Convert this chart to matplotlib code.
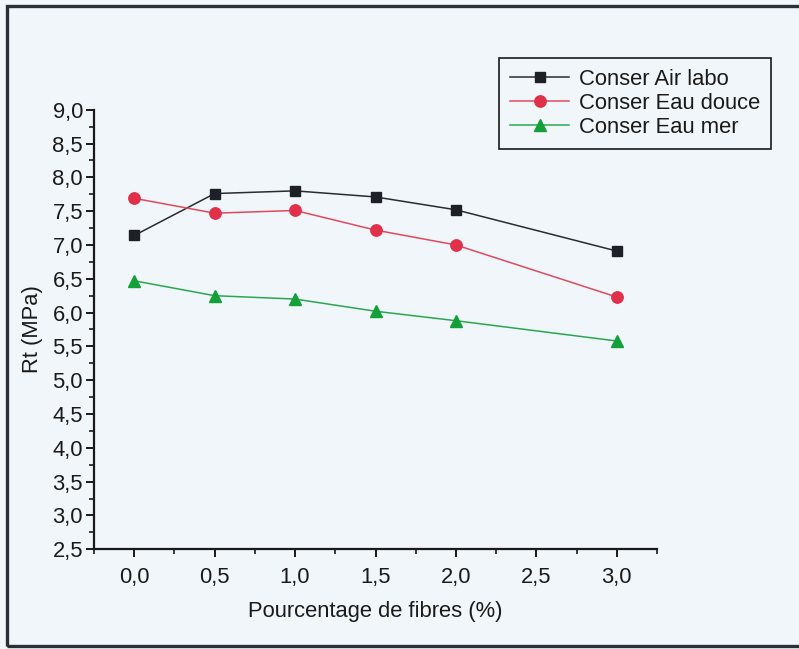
import matplotlib
matplotlib.use("Agg")
import matplotlib.pyplot as plt
from matplotlib.patches import Rectangle
from matplotlib.ticker import MultipleLocator, FuncFormatter

# Fibre content (%) and tensile strength Rt (MPa) for each curing condition
fibres = [0.0, 0.5, 1.0, 1.5, 2.0, 3.0]
rt_air_labo = [7.14, 7.76, 7.80, 7.71, 7.52, 6.91]
rt_eau_douce = [7.69, 7.47, 7.51, 7.22, 7.00, 6.23]
rt_eau_mer = [6.47, 6.25, 6.20, 6.02, 5.88, 5.58]

series_labels = ["Conser Air labo", "Conser Eau douce", "Conser Eau mer"]

plt.rcParams["font.family"] = ["Liberation Sans", "DejaVu Sans"]

W, H = 799, 649
bg = "#f1f6fa"
fs = 15.8
fig = plt.figure(figsize=(W / 100, H / 100), dpi=100, facecolor=bg)

# axes box in pixel units
x0, x1 = 94, 657
y_top, y_bot = 109.7, 549.3
ax = fig.add_axes([x0 / W, 1 - y_bot / H, (x1 - x0) / W, (y_bot - y_top) / H])
ax.set_facecolor(bg)

styles = [
    dict(color="#2b2b2e", marker="s", markersize=6.8, mfc="#1d2026", mec="#1d2026"),
    dict(color="#e04a5e", marker="o", markersize=8.2, mfc="#e0304a", mec="#e0304a"),
    dict(color="#2aa84e", marker="^", markersize=8.2, mfc="#14a038", mec="#14a038"),
]
handles = []
for vals, st, lab in zip([rt_air_labo, rt_eau_douce, rt_eau_mer], styles, series_labels):
    h, = ax.plot(fibres, vals, linewidth=1.1, label=lab, clip_on=False, **st)
    handles.append(h)

ax.set_xlim(-0.25, 3.25)
ax.set_ylim(2.5, 9.0)
ax.xaxis.set_major_locator(MultipleLocator(0.5))
ax.xaxis.set_minor_locator(MultipleLocator(0.25))
ax.yaxis.set_major_locator(MultipleLocator(0.5))
ax.yaxis.set_minor_locator(MultipleLocator(0.25))
comma = FuncFormatter(lambda v, p: f"{v:.1f}".replace(".", ","))
ax.xaxis.set_major_formatter(comma)
ax.yaxis.set_major_formatter(comma)
ax.set_xticks([0.0, 0.5, 1.0, 1.5, 2.0, 2.5, 3.0])

for s in ("top", "right"):
    ax.spines[s].set_visible(False)
for s in ("left", "bottom"):
    ax.spines[s].set_linewidth(1.6)
    ax.spines[s].set_color("#1a1a1a")

ax.tick_params(which="major", direction="out", length=6, width=1.4, color="#1a1a1a",
               labelsize=fs, labelcolor="#1a1a1a")
ax.tick_params(axis="x", which="major", pad=7)
ax.tick_params(axis="y", which="major", pad=2)
ax.tick_params(which="minor", direction="out", length=3.5, width=1.2, color="#1a1a1a")

ax.set_xlabel("Pourcentage de fibres (%)", fontsize=fs, color="#1a1a1a", labelpad=9)
ax.set_ylabel("Rt (MPa)", fontsize=fs, color="#1a1a1a", labelpad=7)

leg = fig.legend(handles=handles, labels=series_labels, loc="upper left",
                 bbox_to_anchor=(499 / W, 1 - 58 / H), bbox_transform=fig.transFigure,
                 fontsize=fs, frameon=True, fancybox=False, handlelength=2.7,
                 handletextpad=0.45, labelspacing=0.13, borderpad=0.5,
                 borderaxespad=0.0)
leg.get_frame().set_edgecolor("#1a1a1a")
leg.get_frame().set_linewidth(1.2)
leg.get_frame().set_facecolor(bg)
leg.get_frame().set_alpha(1.0)
for t in leg.get_texts():
    t.set_color("#1a1a1a")

# outer frame around the whole figure (right side runs off the page)
fig.patches.append(Rectangle((7 / W, 1 - 646 / H), (W + 20 - 7) / W, (646 - 6) / H,
                             transform=fig.transFigure, fill=False,
                             edgecolor="#2a2f38", linewidth=2.4, clip_on=False))

fig.savefig("out.png", dpi=100, facecolor=bg)
